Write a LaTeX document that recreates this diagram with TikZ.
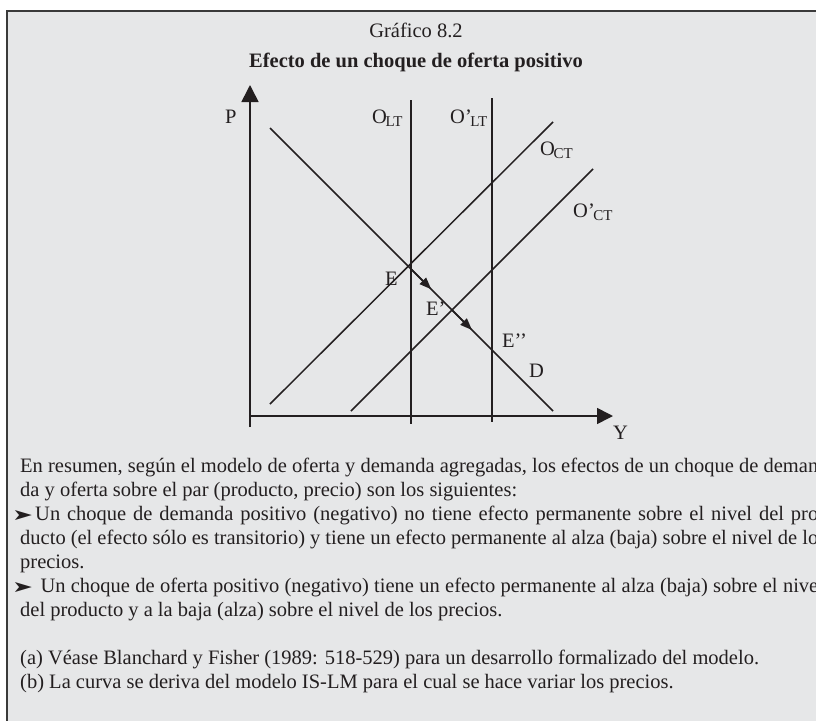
\documentclass[tikz,border=0pt]{standalone}
\usepackage{graphicx}
\usepackage{fontspec}
\setmainfont{Liberation Serif}
\newfontfamily\symfont{DejaVu Sans}
\usetikzlibrary{arrows.meta,calc}
\definecolor{bg}{HTML}{E6E7E8}
\definecolor{ink}{HTML}{231F20}
\definecolor{framec}{HTML}{3A3A3A}
\newcommand\mysub[1]{\kern-1.5pt\raisebox{-3.5pt}{\fontsize{15}{15}\selectfont #1}}
\newcommand\mybul{{\symfont\resizebox{21pt}{10pt}{➤}}}
\newcommand\jline[2]{\hbox to #1{\spaceskip=.25em plus 1fil minus .12em\relax #2}}
\tikzset{
  curve/.style={draw=ink, line width=1.5pt},
  axisline/.style={draw=ink, line width=1.6pt},
  lbl/.style={anchor=base west, inner sep=0pt, text=ink, font=\fontsize{20.5}{24}\selectfont},
  ttl/.style={anchor=base, inner sep=0pt, text=ink, font=\fontsize{20.5}{24}\selectfont},
  txt/.style={anchor=base west, inner sep=0pt, text=ink, font=\fontsize{20.5}{24}\selectfont},
  move/.style={draw=ink, line width=1.5pt, -{Triangle[length=12pt,width=9pt]}},
}
\begin{document}
\begin{tikzpicture}[x=1pt,y=-1pt]
\useasboundingbox (0,0) rectangle (816,720);
\fill[white] (0,0) rectangle (816,720);
\fill[bg] (7,11) rectangle (820,724);
\draw[framec, line width=1.5pt] (7,724) -- (7,11) -- (820,11);

% titles
\node[ttl] (t1) at (416,37) {Gráfico 8.2};
\node[ttl, font=\fontsize{20.5}{24}\selectfont\bfseries] (t2) at (416,67) {Efecto de un choque de oferta positivo};

% axes
\coordinate (orig) at (250,416);
\coordinate (ybot) at (250,427);
\coordinate (ytop) at (250,85);
\coordinate (xend) at (613,416);
\draw[axisline, -{Triangle[length=17pt,width=17pt]}] (ybot) -- (ytop);
\draw[axisline, -{Triangle[length=16pt,width=16pt]}] (orig) -- (xend);

% curves
\coordinate (olt1) at (411,100); \coordinate (olt2) at (411,424);
\coordinate (oplt1) at (492,98); \coordinate (oplt2) at (492,422);
\coordinate (d1) at (270,128); \coordinate (d2) at (553,411);
\coordinate (oct1) at (270,404); \coordinate (oct2) at (553,122);
\coordinate (opct1) at (351,411); \coordinate (opct2) at (593,169);
\draw[curve] (olt1) -- (olt2);
\draw[curve] (oplt1) -- (oplt2);
\draw[curve] (d1) -- (d2);
\draw[curve] (oct1) -- (oct2);
\draw[curve] (opct1) -- (opct2);

% equilibria
\coordinate (E) at (410.5,268.5);
\coordinate (Ep) at (452,310);
\coordinate (Epp) at (492,350);
\draw[move] (E) -- ($(E)!0.5!(Ep)$);
\draw[move] (Ep) -- ($(Ep)!0.5!(Epp)$);

% labels
\node[lbl] (lP) at (225,123) {P};
\node[lbl] (lOLT) at (372,123) {O\mysub{LT}};
\node[lbl] (lOpLT) at (450,123) {O’\mysub{LT}};
\node[lbl] (lOCT) at (540,155) {O\mysub{CT}};
\node[lbl] (lOpCT) at (573,217) {O’\mysub{CT}};
\node[lbl] (lE) at (385,285) {E};
\node[lbl] (lEp) at (426,315) {E’};
\node[lbl] (lEpp) at (502,347) {E’’};
\node[lbl] (lD) at (529,377) {D};
\node[lbl] (lY) at (613,439) {Y};

% text
\node[txt] (p1) at (20,472) {\jline{798pt}{En resumen, según el modelo de oferta y demanda agregadas, los efectos de un choque de deman}};
\node[txt] (p2) at (20,496) {da y oferta sobre el par (producto, precio) son los siguientes:};
\node[txt] (p3) at (12,520) {\jline{806pt}{\mybul\kern2pt Un choque de demanda positivo (negativo) no tiene efecto permanente sobre el nivel del pro}};
\node[txt] (p4) at (20,544) {\jline{798pt}{ducto (el efecto sólo es transitorio) y tiene un efecto permanente al alza (baja) sobre el nivel de lo}};
\node[txt] (p5) at (20,568) {precios.};
\node[txt] (p6) at (12,592) {\jline{806pt}{\mybul\kern2pt\ Un choque de oferta positivo (negativo) tiene un efecto permanente al alza (baja) sobre el nive}};
\node[txt] (p7) at (20,616) {del producto y a la baja (alza) sobre el nivel de los precios.};
\node[txt] (fa) at (20,664) {(a) Véase Blanchard y Fisher (1989: 518-529) para un desarrollo formalizado del modelo.};
\node[txt] (fb) at (20,688) {(b) La curva se deriva del modelo IS-LM para el cual se hace variar los precios.};
\end{tikzpicture}
\end{document}
